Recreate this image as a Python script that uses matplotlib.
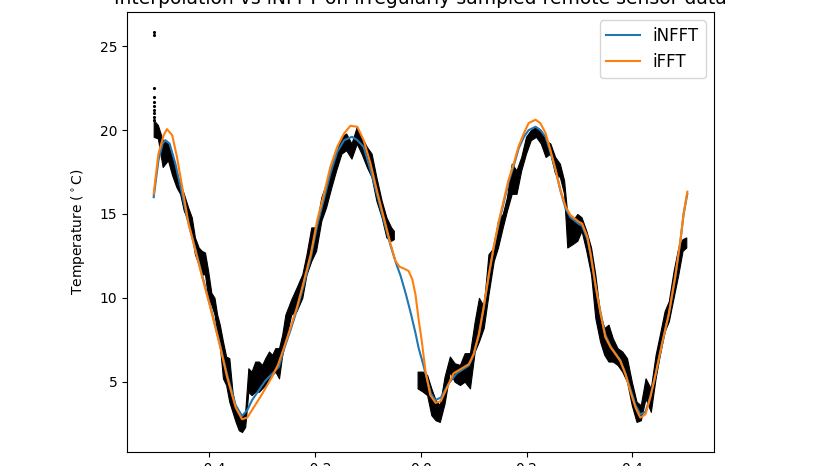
from __future__ import annotations

import matplotlib

matplotlib.use("Agg")
import matplotlib.pyplot as plt
import numpy as np

# sensor readings (lowest / highest dot per time slot)
sensor_t = [
    -0.505, -0.497, -0.488, -0.478, -0.470, -0.462, -0.455, -0.448, -0.440, -0.433,
    -0.427, -0.420, -0.414, -0.408, -0.402, -0.396, -0.390, -0.385, -0.380, -0.374,
    -0.368, -0.362, -0.356, -0.350, -0.344, -0.338, -0.332, -0.326, -0.320, -0.313,
    -0.306, -0.300, -0.294, -0.287, -0.281, -0.275, -0.268, -0.262, -0.256, -0.245,
    -0.235, -0.224, -0.216, -0.207, -0.198, -0.188, -0.179, -0.169, -0.160, -0.150,
    -0.141, -0.131, -0.121, -0.112, -0.102, -0.093, -0.084, -0.074, -0.065, -0.056,
    -0.051,
    -0.006, 0.004, 0.012, 0.020, 0.028, 0.036, 0.045, 0.055, 0.064, 0.074,
    0.083, 0.093, 0.102, 0.110, 0.119, 0.128, 0.138, 0.146, 0.155, 0.163,
    0.172, 0.181, 0.190, 0.199, 0.208, 0.218, 0.227, 0.236, 0.245, 0.254,
    0.263, 0.271, 0.277, 0.287, 0.296, 0.304, 0.313, 0.322, 0.330, 0.339,
    0.347, 0.355, 0.363, 0.372, 0.381, 0.390, 0.399, 0.408, 0.416, 0.425,
    0.435, 0.444, 0.452, 0.461, 0.469, 0.478, 0.487, 0.495, 0.502,
]
sensor_low = [
    19.6, 19.5, 17.8, 18.2, 17.3, 16.6, 16.2, 15.2, 14.6, 13.8,
    12.6, 12.0, 11.4, 11.4, 10.0, 9.6, 9.0, 8.0, 7.2, 5.2,
    4.8, 3.8, 3.2, 2.6, 2.1, 2.0, 2.3, 4.4, 4.2, 4.4,
    4.4, 4.6, 4.8, 5.2, 5.4, 5.6, 5.2, 6.6, 7.4, 9.0,
    9.2, 10.0, 11.4, 12.2, 12.8, 14.6, 15.4, 16.6, 17.6, 18.6,
    18.8, 18.3, 19.2, 18.6, 17.8, 17.2, 15.8, 14.8, 13.6, 13.4,
    13.5,
    4.6, 4.4, 4.2, 3.0, 2.7, 2.6, 3.7, 5.6, 5.0, 4.8,
    5.0, 4.6, 6.8, 7.4, 8.2, 10.2, 12.2, 13.0, 14.2, 15.2,
    16.2, 16.2, 17.6, 18.6, 19.4, 19.6, 19.2, 18.4, 18.6, 17.4,
    17.2, 16.2, 13.0, 13.2, 13.4, 14.0, 12.8, 11.4, 8.8, 7.4,
    6.6, 6.2, 6.2, 6.0, 5.6, 5.0, 3.6, 2.6, 2.7, 4.0,
    3.2, 5.2, 6.6, 8.0, 8.6, 10.0, 11.4, 12.8, 13.0,
]
sensor_high = [
    20.6, 20.3, 19.4, 19.2, 18.6, 17.4, 16.8, 16.2, 15.4, 14.8,
    13.6, 13.0, 12.8, 12.7, 11.6, 10.3, 10.0, 9.0, 8.4, 7.4,
    6.5, 6.4, 4.4, 3.4, 3.0, 2.9, 3.2, 5.8, 5.6, 6.2,
    6.2, 6.0, 6.4, 6.8, 6.6, 7.0, 7.0, 7.8, 9.0, 9.9,
    10.6, 11.4, 12.6, 14.2, 14.2, 16.0, 16.8, 17.8, 18.6, 19.6,
    19.8, 19.2, 20.2, 19.6, 19.0, 18.6, 17.2, 15.8, 14.8, 14.2,
    14.0,
    5.6, 5.6, 5.4, 4.6, 3.9, 3.6, 5.3, 6.5, 6.1, 6.0,
    6.7, 6.7, 8.6, 10.0, 9.5, 12.6, 13.0, 14.6, 15.0, 16.0,
    18.0, 17.6, 18.4, 19.6, 20.0, 20.2, 20.0, 19.4, 19.2, 18.4,
    18.0, 17.0, 15.0, 14.6, 15.0, 14.8, 14.0, 13.0, 11.4, 9.0,
    8.2, 8.4, 7.6, 7.0, 6.8, 6.4, 5.0, 3.8, 3.6, 5.2,
    4.6, 6.6, 7.8, 9.2, 9.8, 11.6, 13.0, 13.5, 13.6,
]

# scattered early readings above the band (warm-up spikes)
spike_t = [-0.505, -0.505, -0.505, -0.505, -0.505, -0.505, -0.505, -0.505, -0.505, -0.505]
spike_temp = [25.85, 25.7, 22.5, 21.95, 21.7, 21.45, 21.2, 21.0, 20.8, 20.6]

# iNFFT reconstruction
infft_t = [
    -0.505, -0.496, -0.488, -0.483, -0.475, -0.464, -0.454, -0.442, -0.426, -0.413,
    -0.398, -0.382, -0.366, -0.350, -0.338, -0.328, -0.319, -0.306, -0.294, -0.280,
    -0.268, -0.259, -0.246, -0.234, -0.221, -0.208, -0.196, -0.183, -0.171, -0.158,
    -0.145, -0.130, -0.120, -0.108, -0.095, -0.083, -0.070, -0.057, -0.046, -0.038,
    -0.028, -0.019, -0.010, -0.004, 0.004, 0.009, 0.019, 0.027, 0.038, 0.053,
    0.068, 0.091, 0.100, 0.110, 0.119, 0.129, 0.138, 0.148, 0.157, 0.166,
    0.176, 0.185, 0.195, 0.204, 0.217, 0.226, 0.236, 0.245, 0.255, 0.264,
    0.274, 0.283, 0.299, 0.305, 0.315, 0.321, 0.331, 0.340, 0.349, 0.359,
    0.368, 0.377, 0.387, 0.396, 0.406, 0.415, 0.425, 0.434, 0.444, 0.456,
    0.469, 0.481, 0.491, 0.497, 0.504,
]
infft_temp = [
    16.0, 18.2, 19.2, 19.4, 19.2, 18.0, 16.6, 14.8, 12.9, 11.3,
    9.5, 7.5, 5.4, 3.6, 2.96, 3.3, 3.9, 4.5, 5.05, 5.5,
    5.9, 6.9, 8.1, 9.3, 10.8, 12.4, 14.3, 15.9, 17.4, 18.7,
    19.4, 19.6, 19.4, 19.0, 17.6, 16.2, 14.6, 13.1, 12.0, 11.3,
    10.2, 9.1, 7.9, 7.0, 6.1, 5.5, 4.3, 3.9, 4.05, 4.9,
    5.5, 5.96, 6.6, 7.8, 9.4, 11.4, 13.0, 14.5, 15.7, 16.9,
    17.9, 18.9, 19.6, 20.0, 20.2, 20.0, 19.6, 18.7, 17.6, 16.4,
    15.3, 14.8, 14.4, 14.3, 13.5, 12.6, 10.6, 9.1, 7.8, 7.1,
    6.7, 6.3, 5.5, 4.6, 3.6, 3.05, 3.2, 4.1, 5.4, 7.2,
    9.0, 11.2, 13.4, 15.0, 16.2,
]

# plain iFFT reconstruction
ifft_t = [
    -0.505, -0.496, -0.486, -0.480, -0.470, -0.461, -0.451, -0.439, -0.426, -0.413,
    -0.398, -0.382, -0.366, -0.350, -0.338, -0.328, -0.316, -0.300, -0.281, -0.270,
    -0.259, -0.246, -0.234, -0.221, -0.208, -0.196, -0.183, -0.171, -0.158, -0.145,
    -0.133, -0.120, -0.108, -0.095, -0.083, -0.070, -0.057, -0.048, -0.040, -0.032,
    -0.023, -0.016, -0.010, -0.004, 0.002, 0.009, 0.018, 0.028, 0.038, 0.049,
    0.062, 0.078, 0.091, 0.100, 0.110, 0.119, 0.129, 0.138, 0.148, 0.157,
    0.166, 0.176, 0.185, 0.195, 0.204, 0.217, 0.226, 0.236, 0.245, 0.255,
    0.264, 0.274, 0.283, 0.299, 0.305, 0.315, 0.321, 0.331, 0.340, 0.349,
    0.359, 0.368, 0.377, 0.387, 0.396, 0.406, 0.415, 0.425, 0.434, 0.444,
    0.456, 0.469, 0.481, 0.491, 0.497, 0.504,
]
ifft_temp = [
    16.2, 18.6, 19.7, 20.06, 19.7, 18.4, 16.6, 14.4, 12.8, 11.2,
    9.45, 7.45, 5.25, 3.46, 2.76, 2.86, 3.46, 4.26, 5.3, 6.0,
    7.0, 8.25, 9.45, 11.0, 12.6, 14.6, 16.2, 17.8, 19.0, 19.8,
    20.26, 20.2, 19.4, 18.0, 16.4, 14.8, 13.2, 12.2, 11.85, 11.75,
    11.6, 11.1, 10.2, 8.7, 7.4, 5.6, 4.2, 3.74, 3.84, 4.6,
    5.5, 5.8, 6.05, 6.65, 7.85, 9.45, 11.44, 13.04, 14.63, 15.83,
    17.03, 18.03, 19.02, 19.82, 20.42, 20.62, 20.42, 19.82, 18.83, 17.63,
    16.43, 15.43, 14.93, 14.53, 14.43, 13.64, 12.64, 10.64, 9.05, 7.65,
    7.05, 6.65, 6.25, 5.45, 4.45, 3.46, 2.86, 3.06, 4.06, 5.45,
    7.25, 9.05, 11.24, 13.44, 15.03, 16.33,
]


def _draw_sensor_band(axis) -> None:
    t = np.asarray(sensor_t)
    low = np.asarray(sensor_low)
    high = np.asarray(sensor_high)
    # split where the logger has no samples
    breaks = np.where(np.diff(t) > 0.03)[0] + 1
    for t_part, low_part, high_part in zip(
        np.split(t, breaks), np.split(low, breaks), np.split(high, breaks)
    ):
        axis.fill_between(t_part, low_part, high_part, color="k", linewidth=0.8, edgecolor="k")
    axis.plot(spike_t, spike_temp, "k.", markersize=2.5)


def main() -> None:
    figure = plt.figure(figsize=(8.28, 4.66), dpi=100)
    axis = figure.add_axes([127 / 828, 14 / 466, 587 / 828, 440 / 466])

    _draw_sensor_band(axis)
    axis.plot(infft_t, infft_temp, color="C0", linewidth=1.5, label="iNFFT")
    axis.plot(ifft_t, ifft_temp, color="C1", linewidth=1.5, label="iFFT")

    axis.set_xticks([-0.4, -0.2, 0.0, 0.2, 0.4])
    axis.set_yticks([5, 10, 15, 20, 25])
    axis.set_ylabel("Temperature ($^\\circ$C)", labelpad=9)
    axis.set_title("Interpolation vs iNFFT on irregularly sampled remote sensor data", fontsize=13.5)
    axis.legend(loc="upper right", fontsize=12)

    figure.savefig("out.png", dpi=100)
    plt.close(figure)


if __name__ == "__main__":
    main()
